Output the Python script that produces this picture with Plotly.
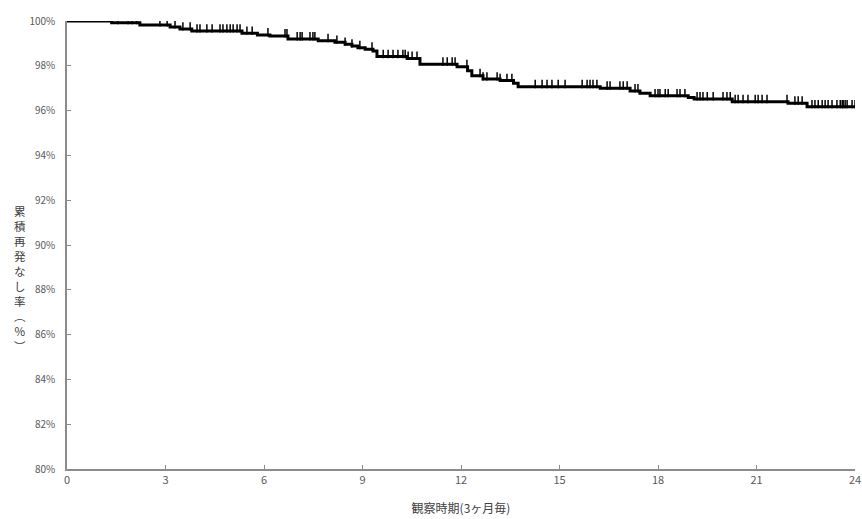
import plotly.graph_objects as go

# Kaplan-Meier steps: time of event (months) and survival after it (%)
step_times = [0, 1.36, 2.22, 3.14, 3.44, 3.80, 5.33, 5.80, 6.18, 6.73, 7.65, 8.16, 8.47, 8.68,
              8.86, 9.08, 9.32, 9.44, 10.36, 10.75, 11.88, 12.20, 12.33, 12.67, 13.19, 13.60,
              13.74, 16.24, 17.15, 17.45, 17.76, 18.92, 19.10, 20.26, 21.96, 22.54, 24.0]
step_surv = [100, 99.92, 99.82, 99.73, 99.64, 99.55, 99.45, 99.38, 99.33, 99.20, 99.12, 99.05,
             98.96, 98.88, 98.81, 98.74, 98.66, 98.41, 98.33, 98.07, 97.96, 97.78, 97.56, 97.41,
             97.34, 97.22, 97.07, 97.00, 96.88, 96.77, 96.66, 96.58, 96.52, 96.40, 96.33, 96.17,
             96.17]

# censored observation times (months)
censor_times = [1.55, 1.86, 1.98, 2.13, 2.83, 3.05, 3.29, 3.53, 3.75, 3.96, 4.05, 4.26, 4.42,
                4.66, 4.75, 4.87, 4.97, 5.06, 5.18, 5.27, 5.48, 5.64, 6.12, 6.64, 6.70, 7.01,
                7.10, 7.16, 7.40, 7.49, 7.55, 7.95, 8.22, 8.47, 8.68, 8.92, 9.29, 9.63, 9.78,
                9.93, 10.08, 10.23, 10.30, 10.39, 10.51, 10.66, 11.45, 11.58, 11.73, 11.82,
                12.18, 12.58, 12.67, 12.79, 13.10, 13.19, 13.40, 13.55, 14.26, 14.47, 14.62,
                14.77, 14.96, 15.17, 15.69, 15.84, 15.93, 16.02, 16.14, 16.45, 16.54, 16.84,
                16.94, 17.06, 17.30, 17.39, 17.91, 18.00, 18.06, 18.22, 18.31, 18.58, 18.67,
                18.82, 19.19, 19.28, 19.37, 19.50, 19.68, 19.98, 20.10, 20.20, 20.35, 20.44,
                20.59, 20.74, 20.96, 21.05, 21.17, 21.32, 21.93, 22.17, 22.27, 22.39, 22.69,
                22.78, 22.88, 23.00, 23.09, 23.18, 23.30, 23.45, 23.55, 23.61, 23.64, 23.70,
                23.76, 23.91, 24.00]

x_ticks = [0, 3, 6, 9, 12, 15, 18, 21, 24]
y_ticks = [80, 82, 84, 86, 88, 90, 92, 94, 96, 98, 100]
y_title = "累積再発なし率︵%︶"
x_title = "観察時期(3ヶ月毎)"


def surv_at(t):
    s = step_surv[0]
    for st, sv in zip(step_times, step_surv):
        if st <= t:
            s = sv
        else:
            break
    return s


censor_y = [surv_at(t) + 0.12 for t in censor_times]

FONT = "Noto Sans CJK JP"
GREY = "#8c8c8c"

fig = go.Figure()
fig.add_trace(go.Scatter(
    x=step_times, y=step_surv, mode="lines",
    line=dict(shape="hv", color="black", width=3),
    hoverinfo="skip", showlegend=False,
))
fig.add_trace(go.Scatter(
    x=censor_times, y=censor_y, mode="markers",
    marker=dict(symbol="line-ns", size=6, line=dict(color="black", width=1.5)),
    hoverinfo="skip", showlegend=False,
))

fig.update_layout(
    width=862, height=519,
    margin=dict(l=67, r=7, t=21, b=50),
    paper_bgcolor="white", plot_bgcolor="white",
    font=dict(family=FONT, size=11, color="#595959"),
    xaxis=dict(
        range=[0, 24], tickvals=x_ticks, ticktext=[str(v) for v in x_ticks],
        showgrid=False, zeroline=False, showline=True, linecolor=GREY, linewidth=1.5,
        ticks="inside", ticklen=4, tickcolor=GREY, tickwidth=1, automargin=False,
        tickfont=dict(family=FONT, size=11, color="#595959"),
        title=dict(text=x_title, font=dict(family=FONT, size=12, color="#404040"), standoff=19),
    ),
    yaxis=dict(
        range=[80, 100], tickvals=y_ticks, ticktext=[f"{v}%" for v in y_ticks],
        showgrid=False, zeroline=False, showline=True, linecolor=GREY, linewidth=1.5,
        ticks="inside", ticklen=4, tickcolor=GREY, tickwidth=1, ticklabelstandoff=8,
        automargin=False,
        tickfont=dict(family=FONT, size=10, color="#595959"),
    ),
    annotations=[dict(
        text="<br>".join(list(y_title)), xref="paper", yref="paper",
        x=0, y=0.5, xshift=-47, yshift=-33, xanchor="center", yanchor="middle",
        showarrow=False, align="center",
        font=dict(family=FONT, size=11.5, color="#404040"),
    )],
)

fig.write_html("out.html", config={"displayModeBar": False},
               post_script="document.body.style.margin='0';")
